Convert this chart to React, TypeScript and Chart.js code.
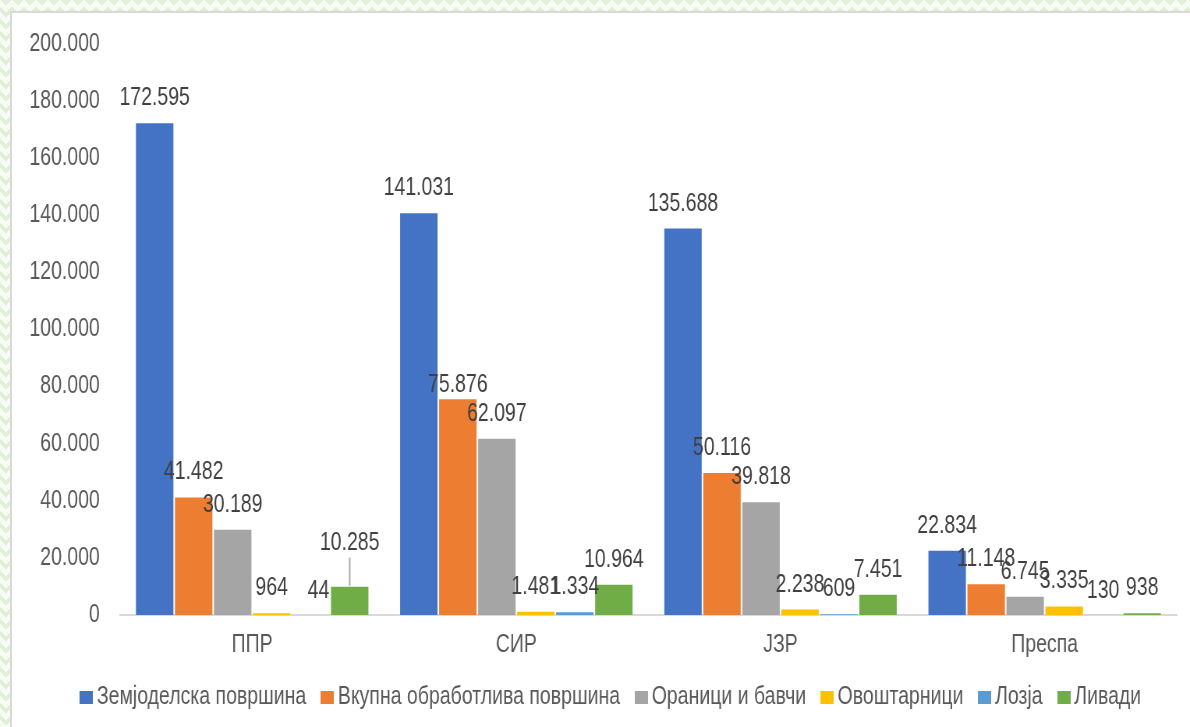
import React, { useEffect, useRef } from "react";
import { Chart, registerables } from "chart.js";

Chart.register(...registerables);

const categories = ["ППР", "СИР", "ЈЗР", "Преспа"];
const seriesNames = [
  "Земјоделска површина",
  "Вкупна обработлива површина",
  "Ораници и бавчи",
  "Овоштарници",
  "Лозја",
  "Ливади",
];
const zemjodelska = [172595, 141031, 135688, 22834];
const vkupna = [41482, 75876, 50116, 11148];
const oranici = [30189, 62097, 39818, 6745];
const ovostarnici = [964, 1481, 2238, 3335];
const lozja = [44, 1334, 609, 130];
const livadi = [10285, 10964, 7451, 938];
const yMax = 200000;
const yStep = 20000;

const colors = ["#4472C4", "#ED7D31", "#A5A5A5", "#FFC000", "#5B9BD5", "#70AD47"];
const FONT = "'Liberation Sans', Arial, sans-serif";
const FONT_SIZE = 25;

// the reference text is horizontally condensed: draw on a wider canvas, show it squeezed
const SX = 0.78;
const VIEW_W = 1190;
const VIEW_H = 727;
const CANVAS_W = Math.round(VIEW_W / SX);

const fmt = (v: number) => String(v).replace(/\B(?=(\d{3})+(?!\d))/g, ".");

// label nudges (dataset-index) in px, styling only
const labelNudge: Record<string, [number, number]> = {
  "1-1": [0, 11],
  "4-0": [10, 0],
  "5-0": [0, -19],
};
const leaderLines = new Set(["5-0"]);

const dataLabels = {
  id: "dataLabels",
  afterDatasetsDraw(chart: any) {
    const ctx = chart.ctx;
    ctx.save();
    ctx.font = `${FONT_SIZE}px ${FONT}`;
    ctx.fillStyle = "#404040";
    ctx.textAlign = "center";
    ctx.textBaseline = "middle";
    chart.data.datasets.forEach((ds: any, i: number) => {
      const meta = chart.getDatasetMeta(i);
      meta.data.forEach((bar: any, j: number) => {
        const key = `${i}-${j}`;
        const [dx, dy] = labelNudge[key] || [0, 0];
        const x = bar.x + dx;
        const y = bar.y - 24 + dy;
        if (leaderLines.has(key)) {
          ctx.save();
          ctx.strokeStyle = "#A6A6A6";
          ctx.lineWidth = 2;
          ctx.beginPath();
          ctx.moveTo(bar.x, y + 15);
          ctx.lineTo(bar.x, bar.y);
          ctx.stroke();
          ctx.restore();
        }
        ctx.fillText(fmt(ds.data[j]), x, y);
      });
    });
    ctx.restore();
  },
};

// move the legend a little to the right, as in the reference
const legendShift = {
  id: "legendShift",
  afterLayout(chart: any) {
    const l = chart.legend;
    if (l) {
      l.left += 32;
      l.right += 32;
    }
  },
};

export default function App() {
  const ref = useRef<HTMLCanvasElement | null>(null);

  useEffect(() => {
    if (!ref.current) return;
    const series = [zemjodelska, vkupna, oranici, ovostarnici, lozja, livadi];
    const boxes = colors.map((c) => {
      const b = document.createElement("canvas");
      b.width = 17;
      b.height = 13;
      const g = b.getContext("2d")!;
      g.fillStyle = c;
      g.fillRect(0, 0, 17, 13);
      return b;
    });
    const chart = new Chart(ref.current, {
      type: "bar",
      data: {
        labels: categories,
        datasets: series.map((d, i) => ({
          label: seriesNames[i],
          data: d,
          backgroundColor: colors[i],
          borderColor: "rgba(255,255,255,0.6)",
          borderWidth: 1,
          barPercentage: 1,
          categoryPercentage: 0.886,
        })),
      },
      options: {
        responsive: false,
        animation: false,
        devicePixelRatio: 1,
        layout: { padding: { left: 0, right: 17, top: 44, bottom: 7 } },
        plugins: {
          legend: {
            position: "bottom",
            labels: {
              usePointStyle: true,
              pointStyleWidth: 2,
              boxHeight: 13,
              padding: 26,
              color: "#595959",
              font: { family: FONT, size: FONT_SIZE },
              generateLabels: (ch: any) =>
                Chart.defaults.plugins.legend.labels
                  .generateLabels(ch)
                  .map((l: any, i: number) => ({ ...l, pointStyle: boxes[i] })),
            },
          },
          tooltip: { enabled: false },
        },
        scales: {
          x: {
            grid: { display: false, drawTicks: false },
            border: { color: "#D9D9D9", width: 2 },
            ticks: { color: "#595959", font: { family: FONT, size: FONT_SIZE }, padding: 15 },
            afterFit: (s: any) => {
              s.height = 44;
            },
          },
          y: {
            min: 0,
            max: yMax,
            grid: { display: false },
            border: { display: false },
            ticks: {
              stepSize: yStep,
              color: "#595959",
              font: { family: FONT, size: FONT_SIZE },
              padding: 18,
              callback: (v: any) => fmt(Number(v)),
            },
            afterFit: (s: any) => {
              s.width = 154;
            },
          },
        },
      },
      plugins: [dataLabels, legendShift],
    });
    return () => chart.destroy();
  }, []);

  const pattern =
    "linear-gradient(135deg, #E2EFD8 25%, transparent 25%) -6px 0/12px 12px, " +
    "linear-gradient(225deg, #E2EFD8 25%, transparent 25%) -6px 0/12px 12px, " +
    "linear-gradient(315deg, #E2EFD8 25%, transparent 25%) 0 0/12px 12px, " +
    "linear-gradient(45deg, #E2EFD8 25%, transparent 25%) 0 0/12px 12px, #F7FBF4";

  return (
    <div style={{ position: "fixed", left: 0, top: 0, width: VIEW_W, height: VIEW_H, overflow: "hidden", background: pattern }}>
      <div
        style={{
          position: "absolute",
          left: 10,
          top: 11,
          width: 1200,
          height: 730,
          background: "#FFFFFF",
          borderLeft: "2px solid #D9D9D9",
          borderTop: "2px solid #D9D9D9",
        }}
      />
      <canvas
        ref={ref}
        width={CANVAS_W}
        height={VIEW_H}
        style={{ position: "absolute", left: 0, top: 0, width: VIEW_W, height: VIEW_H }}
      />
    </div>
  );
}
